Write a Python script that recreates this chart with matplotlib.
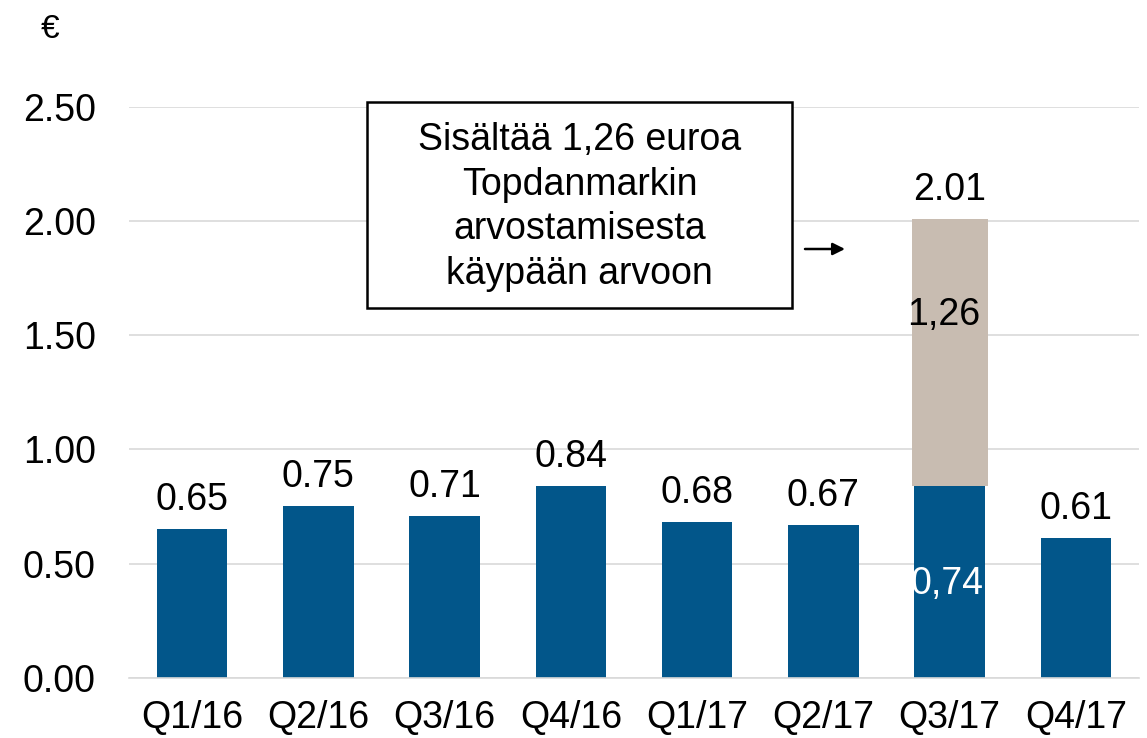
import matplotlib.pyplot as plt
from matplotlib.patches import Rectangle

plt.rcParams["font.family"] = ["Liberation Sans", "DejaVu Sans"]

# Data
quarters = ["Q1/16", "Q2/16", "Q3/16", "Q4/16", "Q1/17", "Q2/17", "Q3/17", "Q4/17"]
eps = [0.65, 0.75, 0.71, 0.84, 0.68, 0.67, 0.84, 0.61]
eps_labels = ["0.65", "0.75", "0.71", "0.84", "0.68", "0.67", "2.01", "0.61"]
# Q3/17 extra part (Topdanmark revaluation)
extra = [0, 0, 0, 0, 0, 0, 1.17, 0]
q3_idx = 6
q3_inner_labels = ("0,74", "1,26")
yticks = [0.0, 0.5, 1.0, 1.5, 2.0, 2.5]

blue = "#02568A"
tan = "#C8BCB1"
grid_c = "#D9D9D9"
FS = 27

W, H = 1147, 738
fig = plt.figure(figsize=(W / 100, H / 100), dpi=100)
ax = fig.add_axes([129 / W, 1 - 677.7 / H, (1139 - 129) / W, (677.7 - 106.7) / H])

x = list(range(len(quarters)))
ax.bar(x, eps, width=0.56, color=blue, zorder=2)
ax.bar(x, extra, bottom=eps, width=0.6, color=tan, zorder=2)

# value labels above bars
for i, (v, e, lab) in enumerate(zip(eps, extra, eps_labels)):
    ax.annotate(lab, (i, v + e), xytext=(0, 19), textcoords="offset pixels",
                ha="center", va="baseline", fontsize=FS, color="black")

# labels inside the Q3/17 stack
ax.text(q3_idx - 0.05, eps[q3_idx] + extra[q3_idx] * 0.64, q3_inner_labels[1],
        ha="center", va="center", fontsize=FS, color="black", zorder=3)
ax.text(q3_idx - 0.02, eps[q3_idx] * 0.49, q3_inner_labels[0],
        ha="center", va="center", fontsize=FS, color="white", zorder=3)

ax.set_xlim(-0.5, len(quarters) - 0.5)
ax.set_ylim(0, 2.5)
ax.set_yticks(yticks)
ax.set_yticklabels([f"{t:.2f}" for t in yticks])
ax.set_xticks(x)
ax.set_xticklabels(quarters)
ax.tick_params(axis="both", length=0, labelsize=FS)
ax.tick_params(axis="x", pad=16)
ax.tick_params(axis="y", pad=24)
ax.yaxis.grid(True, color=grid_c, linewidth=1.2, zorder=0)
ax.set_axisbelow(True)
for s in ["left", "right", "top"]:
    ax.spines[s].set_visible(False)
ax.spines["bottom"].set_color(grid_c)
ax.spines["bottom"].set_linewidth(1.2)

# euro unit label
fig.text(50 / W, 1 - 29 / H, "€", ha="center", va="center", fontsize=24)

# note box
bx0, by0, bx1, by1 = 367, 102, 792, 308
fig.patches.append(Rectangle((bx0 / W, 1 - by1 / H), (bx1 - bx0) / W, (by1 - by0) / H,
                             transform=fig.transFigure, facecolor="white",
                             edgecolor="black", linewidth=1.8, zorder=5))
fig.text((bx0 + bx1) / 2 / W, 1 - 207 / H,
         "Sisältää 1,26 euroa\nTopdanmarkin\narvostamisesta\nkäypään arvoon",
         ha="center", va="center", multialignment="center", fontsize=FS,
         linespacing=1.3, zorder=6)

# arrow
ax.annotate("", xy=(845 / W, 1 - 249 / H), xytext=(805 / W, 1 - 249 / H),
            xycoords="figure fraction", textcoords="figure fraction",
            arrowprops=dict(arrowstyle="-|>", color="black", lw=1.8,
                            mutation_scale=18, shrinkA=0, shrinkB=0))

fig.savefig("out.png", dpi=100)
